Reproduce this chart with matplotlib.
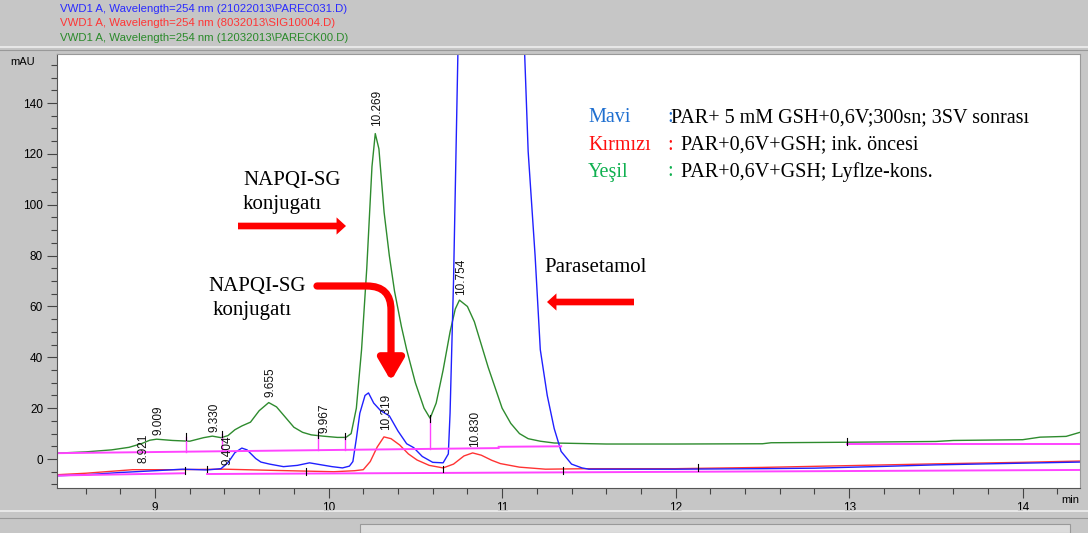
import matplotlib
matplotlib.use("Agg")
import matplotlib.pyplot as plt
from matplotlib.patches import FancyArrowPatch, Rectangle
from matplotlib.lines import Line2D
from matplotlib.ticker import MultipleLocator

W, H = 1088, 533

# chromatogram traces, (time min, signal mAU)
green = [(8.43, 2.3), (8.60, 2.8), (8.75, 3.6), (8.85, 4.6), (8.92, 6.0), (8.97, 7.4),
         (9.009, 7.8), (9.10, 7.3), (9.20, 7.0), (9.28, 8.4), (9.33, 9.0), (9.38, 8.4),
         (9.42, 9.2), (9.46, 11.5), (9.50, 13.0), (9.55, 14.5), (9.60, 19.0), (9.655, 22.2),
         (9.70, 20.5), (9.75, 16.5), (9.80, 12.5), (9.85, 10.5), (9.90, 9.5), (9.967, 9.0),
         (10.05, 8.5), (10.10, 8.5), (10.13, 10.0), (10.16, 20.0), (10.19, 43.0), (10.22, 75.0),
         (10.25, 115.0), (10.269, 128.0), (10.29, 122.0), (10.32, 97.0), (10.35, 80.0),
         (10.38, 66.0), (10.42, 52.0), (10.45, 43.0), (10.50, 30.0), (10.55, 20.0),
         (10.585, 16.0), (10.62, 22.0), (10.66, 35.0), (10.70, 50.0), (10.73, 59.0),
         (10.754, 62.5), (10.80, 60.0), (10.84, 54.0), (10.88, 45.0), (10.92, 36.0),
         (10.96, 28.0), (11.00, 20.0), (11.05, 14.0), (11.10, 10.0), (11.15, 8.0),
         (11.22, 7.0), (11.30, 6.3), (11.60, 5.9), (12.00, 5.9), (12.50, 6.0), (12.55, 6.4),
         (13.00, 6.6), (13.50, 6.9), (13.60, 7.3), (14.00, 7.6), (14.10, 8.6), (14.25, 8.9),
         (14.33, 10.5)]

blue = [(8.43, -6.6), (8.60, -6.2), (8.80, -5.3), (9.00, -4.6), (9.16, -4.0), (9.30, -4.3),
        (9.38, -3.8), (9.42, -1.5), (9.46, 2.5), (9.50, 4.3), (9.53, 3.6), (9.58, 0.2),
        (9.61, -1.2), (9.66, -2.0), (9.74, -3.0), (9.82, -2.5), (9.89, -1.5), (9.95, -2.2),
        (10.02, -3.0), (10.08, -3.5), (10.12, -2.8), (10.14, -1.0), (10.16, 8.0),
        (10.18, 18.0), (10.21, 25.0), (10.23, 26.0), (10.26, 22.0), (10.30, 19.0),
        (10.35, 17.0), (10.40, 11.0), (10.45, 6.0), (10.49, 4.5), (10.54, 1.0),
        (10.60, -1.3), (10.66, -1.5), (10.69, 2.0), (10.70, 18.0), (10.72, 70.0),
        (10.745, 159.0), (10.76, 260.0), (10.94, 900.0), (11.12, 200.0), (11.13, 159.0),
        (11.15, 121.0), (11.19, 80.0), (11.22, 43.0), (11.26, 25.0), (11.30, 12.0),
        (11.34, 3.0), (11.40, -2.0), (11.46, -3.5), (11.50, -4.0), (12.00, -4.0),
        (12.50, -3.8), (12.80, -3.6), (13.20, -2.9), (13.50, -2.3), (13.80, -1.9),
        (14.33, -1.2)]

red = [(8.43, -6.2), (8.60, -5.6), (8.87, -4.2), (9.10, -4.2), (9.40, -4.0), (9.70, -4.5),
       (10.03, -5.0), (10.15, -4.6), (10.20, -4.2), (10.24, -1.0), (10.28, 4.7),
       (10.319, 8.7), (10.36, 8.0), (10.41, 5.5), (10.46, 2.0), (10.51, -0.4),
       (10.58, -2.5), (10.66, -3.5), (10.72, -2.0), (10.78, 1.2), (10.830, 2.4),
       (10.88, 1.5), (10.94, -0.5), (10.99, -1.8), (11.10, -3.2), (11.25, -4.0),
       (11.50, -3.8), (12.00, -3.8), (12.50, -3.3), (13.00, -2.6), (13.50, -1.9),
       (14.00, -1.3), (14.33, -0.8)]

# integration baselines (t0, v0, t1, v1)
base_segments = [(8.43, 2.3, 10.98, 4.3), (10.98, 4.8, 11.34, 5.0), (12.99, 5.8, 14.33, 5.8),
                 (8.43, -6.5, 9.17, -5.6), (9.30, -5.9, 14.33, -4.3)]

# drop lines down to the baseline (t, low, high)
drops = [(9.18, 2.9, 8.8), (9.385, 3.0, 9.8), (9.94, 3.5, 9.6), (10.095, 3.6, 9.0),
         (10.585, 4.0, 16.0)]

# peak start/stop markers (t, level)
marks = [(9.18, 8.8), (9.385, 9.8), (9.94, 9.6), (10.095, 9.0), (10.585, 16.0), (12.99, 6.8),
         (9.17, -4.6), (9.30, -4.0), (9.87, -5.0), (10.66, -4.0), (11.35, -4.6), (12.13, -3.4)]

# retention time labels (text, label foot in mAU)
peak_labels = [("8.921", -1.6), ("9.009", 9.4), ("9.330", 10.6), ("9.404", -2.4),
               ("9.655", 24.4), ("9.967", 10.2), ("10.269", 131.0), ("10.319", 11.4),
               ("10.754", 64.5), ("10.830", 4.7)]

file_lines = ["VWD1 A, Wavelength=254 nm (21022013\\PAREC031.D)",
              "VWD1 A, Wavelength=254 nm (8032013\\SIG10004.D)",
              "VWD1 A, Wavelength=254 nm (12032013\\PARECK00.D)"]
file_colors = ["#2a2aff", "#ff3535", "#2a8a2a"]

legend_names = ["Mavi", "Kırmızı", "Yeşil"]
legend_colors = ["#1f6fd0", "#ff1010", "#10b050"]
legend_texts = [":PAR+ 5 mM GSH+0,6V;300sn; 3SV sonrası",
                ": PAR+0,6V+GSH; ink. öncesi",
                ": PAR+0,6V+GSH; Lyflze-kons."]


def fx(x):
    return x / W


def fy(y):
    return 1 - y / H


fig = plt.figure(figsize=(W / 100, H / 100), dpi=100, facecolor="#c6c6c6")
ax = fig.add_axes([fx(57), fy(488), fx(1080 - 57), (488 - 54) / H])
ax.set_facecolor("white")

ax.plot(*zip(*green), color="#2e8b2e", lw=1.0)
ax.plot(*zip(*red), color="#ff3333", lw=1.0)
ax.plot(*zip(*blue), color="#2020ff", lw=1.0)

for t0, v0, t1, v1 in base_segments:
    ax.plot([t0, t1], [v0, v1], color="#ff44ff", lw=1.4)
for t, lo, hi in drops:
    ax.plot([t, t], [lo, hi], color="#ff44ff", lw=1.0)
for t, v in marks:
    ax.plot([t, t], [v - 1.3, v + 1.3], color="black", lw=0.8)

for lbl, foot in peak_labels:
    ax.annotate(lbl, (float(lbl), foot), xytext=(1.5, 0), textcoords="offset points",
                rotation=90, ha="center", va="bottom", fontsize=8.5,
                family="Liberation Sans", color="#111111")

ax.set_xlim(8.435, 14.33)
ax.set_ylim(-11.4, 159.3)
ax.xaxis.set_major_locator(MultipleLocator(1))
ax.xaxis.set_minor_locator(MultipleLocator(0.2))
ax.yaxis.set_minor_locator(MultipleLocator(5))
ax.set_yticks([0, 20, 40, 60, 80, 100, 120, 140])
ax.tick_params(which="major", length=7, width=0.8, color="#444444", labelsize=8.5, pad=3)
ax.tick_params(which="minor", length=4, width=0.8, color="#444444")
for lab in ax.get_xticklabels() + ax.get_yticklabels():
    lab.set_family("Liberation Sans")
for side in ["left", "bottom"]:
    ax.spines[side].set_color("#555555")
for side in ["top", "right"]:
    ax.spines[side].set_color("#999999")

fig.text(fx(10), fy(62), "mAU", fontsize=8, family="Liberation Sans", va="center")
fig.text(fx(1061), fy(500), "min", fontsize=8, family="Liberation Sans", va="center")

# header with file names
for i, (s, c) in enumerate(zip(file_lines, file_colors)):
    fig.text(fx(60), fy(9 + 14.5 * i), s, color=c, fontsize=8.2, family="Liberation Sans",
             va="center")
fig.add_artist(Line2D([0, 1], [fy(47), fy(47)], transform=fig.transFigure, color="#eeeeee", lw=1.2))
fig.add_artist(Line2D([0, 1], [fy(50), fy(50)], transform=fig.transFigure, color="#999999", lw=0.8))

# bottom scroll bars
fig.add_artist(Line2D([0, 1], [fy(511), fy(511)], transform=fig.transFigure, color="#eeeeee", lw=1.2))
fig.add_artist(Line2D([0, 1], [fy(518), fy(518)], transform=fig.transFigure, color="#999999", lw=0.8))
fig.add_artist(Rectangle((fx(360), 0), fx(1070 - 360), fy(524), transform=fig.transFigure,
                         facecolor="#dcdcdc", edgecolor="#999999", lw=0.8))

# condition legend
for i, (name, col, txt) in enumerate(zip(legend_names, legend_colors, legend_texts)):
    y = fy(118 + 27 * i)
    fig.text(fx(588), y, name, color=col, fontsize=14.5, family="Liberation Serif", va="center")
    fig.text(fx(667), y, txt[0], color=col, fontsize=14.5, family="Liberation Serif", va="center")
    fig.text(fx(671 if i == 0 else 676), y, txt[1:], color="black", fontsize=14.5,
             family="Liberation Serif", va="center")

serif = dict(fontsize=15, family="Liberation Serif", color="black", va="center")
fig.text(fx(243), fy(181), "NAPQI-SG", **serif)
fig.text(fx(243), fy(205), "konjugatı", **serif)
fig.text(fx(208), fy(287), "NAPQI-SG", **serif)
fig.text(fx(213), fy(311), "konjugatı", **serif)
fig.text(fx(544), fy(268), "Parasetamol", **serif)

arrow_red = "#ff0000"
straight = "simple,head_length=0.34,head_width=0.62,tail_width=0.24"
fig.add_artist(FancyArrowPatch((fx(238), fy(226)), (fx(346), fy(226)), transform=fig.transFigure,
                               arrowstyle=straight, mutation_scale=20, lw=0, color=arrow_red,
                               shrinkA=0, shrinkB=0))
fig.add_artist(FancyArrowPatch((fx(634), fy(302)), (fx(547), fy(302)), transform=fig.transFigure,
                               arrowstyle=straight, mutation_scale=20, lw=0, color=arrow_red,
                               shrinkA=0, shrinkB=0))
fig.add_artist(FancyArrowPatch((fx(317), fy(286)), (fx(391), fy(381)), transform=fig.transFigure,
                               connectionstyle="angle,angleA=0,angleB=90,rad=24",
                               arrowstyle="-|>,head_length=0.65,head_width=0.38",
                               mutation_scale=20, lw=5.2, color=arrow_red,
                               shrinkA=0, shrinkB=0))

fig.savefig("out.png", dpi=100, facecolor=fig.get_facecolor())
